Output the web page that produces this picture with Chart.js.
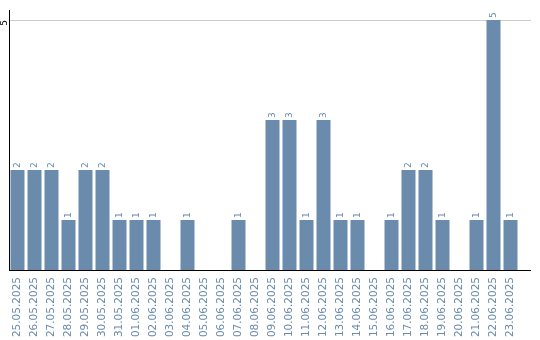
<!DOCTYPE html>
<html>
<head>
<meta charset="utf-8">
<script src="https://cdn.jsdelivr.net/npm/chart.js@4/dist/chart.umd.min.js"></script>
<style>
  html, body { margin: 0; padding: 0; background: #ffffff; }
  canvas { display: block; }
</style>
</head>
<body>
<canvas id="c" width="540" height="340"></canvas>
<script>
const categories = [
  '25.05.2025','26.05.2025','27.05.2025','28.05.2025','29.05.2025','30.05.2025','31.05.2025',
  '01.06.2025','02.06.2025','03.06.2025','04.06.2025','05.06.2025','06.06.2025','07.06.2025',
  '08.06.2025','09.06.2025','10.06.2025','11.06.2025','12.06.2025','13.06.2025','14.06.2025',
  '15.06.2025','16.06.2025','17.06.2025','18.06.2025','19.06.2025','20.06.2025','21.06.2025',
  '22.06.2025','23.06.2025'
];
const counts = [2,2,2,1,2,2,1,1,1,0,1,0,0,1,0,3,3,1,3,1,1,0,1,2,2,1,0,1,5,1];
const yTickValues = [5];

const BAR = '#6a8bab';
const FONT = 'DejaVu Sans';

const valueLabels = {
  id: 'valueLabels',
  afterDatasetsDraw(chart) {
    const ctx = chart.ctx;
    const meta = chart.getDatasetMeta(0);
    ctx.save();
    ctx.fillStyle = BAR;
    ctx.font = '9px "' + FONT + '"';
    ctx.textAlign = 'left';
    ctx.textBaseline = 'middle';
    meta.data.forEach((el, i) => {
      const v = chart.data.datasets[0].data[i];
      if (!v) return;
      ctx.save();
      ctx.translate(el.x, el.y - 2);
      ctx.rotate(-Math.PI / 2);
      ctx.fillText(String(v), 0, 0);
      ctx.restore();
    });
    ctx.restore();
  }
};

const lineExtend = {
  id: 'lineExtend',
  beforeDatasetsDraw(chart) {
    const ctx = chart.ctx;
    const a = chart.chartArea;
    const ys = chart.scales.y;
    const end = chart.width - 9;
    ctx.save();
    ctx.lineWidth = 1;
    ctx.strokeStyle = '#cccccc';
    yTickValues.forEach(v => {
      const y = Math.round(ys.getPixelForValue(v)) + 0.5;
      ctx.beginPath(); ctx.moveTo(a.right, y); ctx.lineTo(end, y); ctx.stroke();
    });
    ctx.strokeStyle = '#000000';
    const yb = Math.round(ys.getPixelForValue(0)) + 0.5;
    ctx.beginPath(); ctx.moveTo(a.right - 1, yb); ctx.lineTo(end, yb); ctx.stroke();
    ctx.restore();
  }
};

new Chart(document.getElementById('c'), {
  type: 'bar',
  data: {
    labels: categories,
    datasets: [{
      data: counts,
      backgroundColor: BAR,
      borderWidth: 0,
      categoryPercentage: 1,
      barPercentage: 14 / 17
    }]
  },
  options: {
    responsive: false,
    animation: false,
    layout: { padding: { left: 0, top: 10, right: 21, bottom: 0 } },
    plugins: { legend: { display: false }, tooltip: { enabled: false } },
    scales: {
      x: {
        grid: { display: false, drawTicks: false },
        border: { display: true, color: '#000000', width: 1 },
        ticks: {
          color: BAR,
          font: { family: FONT, size: 10.5 },
          minRotation: 90,
          maxRotation: 90,
          autoSkip: false,
          padding: 7
        },
        afterFit: s => { s.height = 70; }
      },
      y: {
        min: 0,
        max: 5.2,
        grid: { color: '#cccccc', drawTicks: false },
        border: { display: true, color: '#000000', width: 1 },
        afterBuildTicks: s => { s.ticks = yTickValues.map(v => ({ value: v })); },
        ticks: {
          color: '#000000',
          font: { family: FONT, size: 9 },
          minRotation: 90,
          maxRotation: 90,
          crossAlign: 'near',
          padding: 4
        },
        afterFit: s => { s.width = 9; }
      }
    }
  },
  plugins: [lineExtend, valueLabels]
});
</script>
</body>
</html>
